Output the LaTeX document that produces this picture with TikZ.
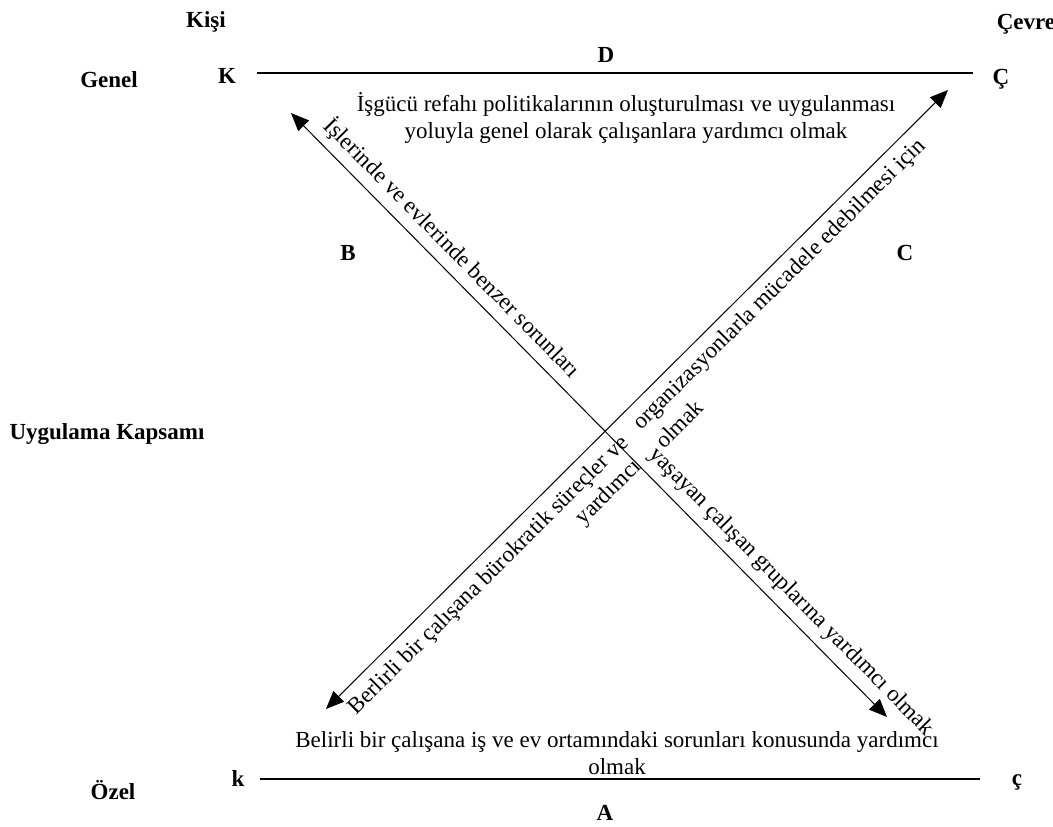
\documentclass[tikz,border=0pt]{standalone}
\usepackage{fontspec}
\setmainfont{Liberation Serif}
\usetikzlibrary{arrows.meta}

\tikzset{
  baslik/.style={font=\fontsize{23}{27}\selectfont\bfseries, inner sep=0pt},
  metin/.style={font=\fontsize{23}{27}\selectfont, inner sep=0pt, align=center},
  ciftok/.style={{Triangle[length=18pt,width=15pt]}-{Triangle[length=18pt,width=15pt]}, line width=1pt},
}

\begin{document}
\begin{tikzpicture}[x=1pt,y=-1pt]
        \useasboundingbox (0,0) rectangle (1053,827);

        % eksen başlıkları
        \node[baslik] (kisi) at (206,22) {Kişi};
        \node[baslik] (cevre) at (1026,24) {Çevre};
        \node[baslik] (genel) at (109,80) {Genel};
        \node[baslik] (kapsam) at (107,434) {Uygulama Kapsamı};
        \node[baslik] (ozel) at (113,790) {Özel};

        % köşe ve kenar harfleri
        \node[baslik] (bK) at (227,76) {K};
        \node[baslik] (bC) at (1001,79) {Ç};
        \node[baslik] (kk) at (238,779) {k};
        \node[baslik] (kc) at (1017,782) {ç};
        \node[baslik] (harfD) at (606,55) {D};
        \node[baslik] (harfA) at (605,813) {A};
        \node[baslik] (harfB) at (348,253) {B};
        \node[baslik] (harfC) at (905,253) {C};

        % üst ve alt çizgiler
        \coordinate (ustsol) at (257,73);
        \coordinate (ustsag) at (973,73);
        \coordinate (altsol) at (260,779);
        \coordinate (altsag) at (980,779);
        \draw[line width=1.2pt] (ustsol) -- (ustsag);
        \draw[line width=1.2pt] (altsol) -- (altsag);

        % çapraz oklar
        \coordinate (ok1a) at (291,113);
        \coordinate (ok1b) at (887,717);
        \coordinate (ok2a) at (326,709);
        \coordinate (ok2b) at (948,90);
        \draw[ciftok] (ok1a) -- (ok1b);
        \draw[ciftok] (ok2a) -- (ok2b);

        % üst ve alt metinler
        \node[metin] (ustmetin) at (626,118) {İşgücü refahı politikalarının oluşturulması ve uygulanması\\yoluyla genel olarak çalışanlara yardımcı olmak};
        \node[metin] (altmetin) at (617,753) {Belirli bir çalışana iş ve ev ortamındaki sorunları konusunda yardımcı\\olmak};

        % ok üzerindeki metinler
        \node[metin, rotate=-45.38] (yazi1) at (452,248) {İşlerinde ve evlerinde benzer sorunları};
        \node[metin, rotate=-45.38] (yazi2) at (791,592) {yaşayan çalışan gruplarına yardımcı olmak};
        \node[metin, rotate=44.86] (yazi3) at (489,576) {Berlirli bir çalışana bürokratik süreçler ve};
        \node[metin, rotate=44.86] (yazi4) at (609,493) {yardımcı};
        \node[metin, rotate=44.86] (yazi5) at (780,285) {organizasyonlarla mücadele edebilmesi için};
        \node[metin, rotate=44.86] (yazi6) at (679,424) {olmak};
\end{tikzpicture}
\end{document}
